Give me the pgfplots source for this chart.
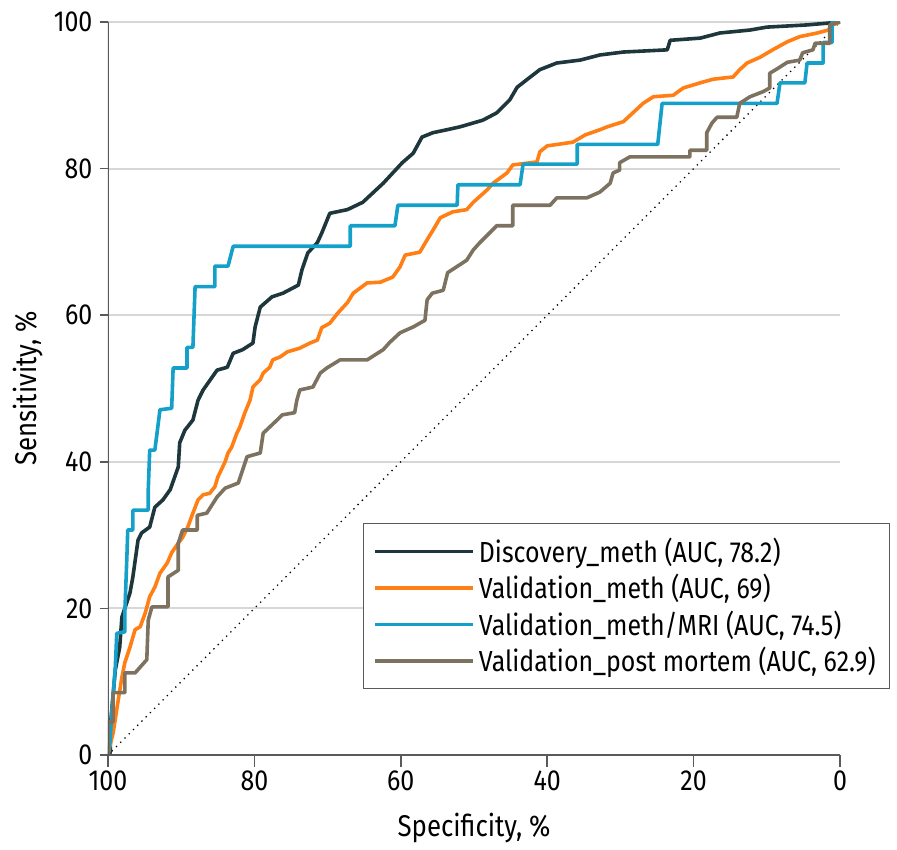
\documentclass[border=0pt]{standalone}
\usepackage{pgfplots}
\pgfplotsset{compat=1.18}
\usepackage{fontspec}
\setmainfont{Fira Sans}[FakeStretch=0.86]

\definecolor{cDisc}{RGB}{30,55,60}
\definecolor{cVal}{RGB}{255,127,20}
\definecolor{cMri}{RGB}{20,160,200}
\definecolor{cPm}{RGB}{125,114,96}
\definecolor{cGrid}{RGB}{215,215,215}
\definecolor{cAx}{RGB}{90,90,90}

\begin{document}
\begin{tikzpicture}
\begin{axis}[scale only axis,width=366pt,height=366.5pt,
  x dir=reverse,xmin=0,xmax=100,ymin=0,ymax=100,
  xtick={0,20,...,100},ytick={0,20,...,100},
  axis line style={draw=none},
  xtick pos=bottom,ytick pos=left,
  tick align=outside,
  x tick style={cAx,line width=0.8pt},y tick style={cAx,line width=0.8pt},
  xtick style={/pgfplots/major tick length=6pt},
  ytick style={/pgfplots/major tick length=4pt},
  ymajorgrids,grid style={cGrid,line width=1pt},
  /pgf/number format/assume math mode=true,
  tick label style={font=\fontsize{14.5}{16}\selectfont},
  label style={font=\fontsize{15}{17}\selectfont},
  xlabel={Specificity, \%},ylabel={Sensitivity, \%},
  xlabel style={at={(axis description cs:0.5,-0.0996)},anchor=center},
  ylabel style={at={(axis description cs:-0.109,0.5)},anchor=center},
  legend style={at={(0.348,0.3165)},anchor=north west,draw=cAx,line width=0.6pt,
    fill=white,font=\fontsize{14.5}{17}\selectfont,inner xsep=5pt,inner ysep=5pt,
    row sep=0.5pt,cells={anchor=west}},
  legend image code/.code={\draw[#1,line width=1.4pt] (5pt,0pt) -- (45pt,0pt);
    \path (0pt,0pt) -- (49pt,0pt);},
  every axis plot/.append style={line width=1.8pt,line join=round}]

\addplot[black,line width=0.9pt,line cap=round,dash pattern=on 0pt off 3pt,forget plot]
  coordinates {(100,0) (0,100)};

% Discovery_meth
\addplot[cDisc] coordinates {
(100,0) (99.7,0.3) (99.6,4.8) (99.0,11.6) (98.4,14.7) (98.1,18.8) (97.0,22.1)
(96.6,24.3) (95.9,29.3) (95.4,30.3) (94.3,31.1) (93.6,33.8) (92.5,34.8) (91.5,36.2)
(90.4,39.3) (90.2,42.6) (89.5,44.3) (88.4,45.7) (87.7,48.4) (87.0,49.8) (85.1,52.5)
(83.7,52.9) (82.9,54.8) (81.6,55.3) (80.2,56.2) (79.9,58.4) (79.2,61.1) (77.6,62.5)
(76.1,63.0) (74.0,64.1) (73.5,66.2) (72.7,68.5) (71.4,69.9) (70.8,71.2) (69.7,73.9)
(67.3,74.4) (65.2,75.4) (63.8,76.7) (62.4,78.0) (61.1,79.4) (59.8,80.8) (58.3,82.1)
(57.1,84.3) (55.6,84.9) (53.7,85.3) (51.9,85.7) (48.8,86.6) (46.9,87.6) (45.1,89.4)
(44.1,91.1) (42.3,92.5) (41.0,93.5) (38.7,94.4) (35.5,94.8) (32.8,95.5) (29.6,95.9)
(23.6,96.2) (23.2,97.5) (19.1,97.8) (16.4,98.5) (12.3,98.9) (10.0,99.3) (4.5,99.6)
(1.0,99.9) (0,100)};
\addlegendentry{Discovery\_meth (AUC, 78.2)}

% Validation_meth
\addplot[cVal] coordinates {
(100,0) (99.7,1.4) (99.3,3.0) (98.6,7.5) (98.1,10.6) (97.7,12.6) (97.0,14.7)
(96.3,17.1) (95.6,17.5) (94.9,19.4) (94.3,21.6) (93.6,22.9) (92.9,24.8) (91.9,26.2)
(91.3,27.6) (90.4,28.9) (89.8,29.7) (89.1,31.1) (88.4,33.0) (87.7,34.8) (87.0,35.5)
(86.1,35.7) (85.4,36.6) (85.0,37.9) (84.0,40.0) (83.6,41.2) (83.1,42.0) (82.4,43.9)
(82.0,44.7) (81.3,46.7) (80.6,48.4) (80.2,50.2) (79.2,51.2) (78.8,52.1) (77.9,52.9)
(77.5,53.9) (76.5,54.3) (75.5,55.0) (73.8,55.5) (72.4,56.2) (71.4,56.6) (70.8,58.3)
(69.7,58.9) (68.6,60.3) (67.3,61.7) (66.5,63.0) (64.6,64.4) (62.8,64.5) (61.1,65.2)
(60.1,66.6) (59.4,68.2) (57.4,68.6) (56.4,70.3) (55.6,71.6) (54.6,73.3) (52.9,74.1)
(51.0,74.4) (50.1,75.4) (48.2,77.1) (47.4,78.0) (45.5,79.4) (44.7,80.5) (41.4,80.9)
(41.0,82.3) (40.0,83.1) (36.5,83.6) (34.8,84.6) (32.8,85.3) (31.8,85.7) (29.6,86.4)
(28.3,87.6) (26.9,88.9) (25.5,89.8) (22.8,90.0) (21.4,91.0) (19.1,91.7) (17.3,92.2)
(14.6,92.5) (13.7,93.5) (12.7,94.4) (10.9,95.2) (9.2,96.2) (7.2,97.3) (5.5,98.0)
(3.1,98.5) (1.6,98.9) (1.0,99.6) (0,100)};
\addlegendentry{Validation\_meth (AUC, 69)}

% Validation_meth/MRI
\addplot[cMri] coordinates {
(100,0) (99.7,2.0) (99.5,5.7) (99.0,12.0) (98.8,16.6) (97.7,16.8) (97.7,19.4)
(97.4,27.6) (97.3,30.7) (96.6,30.7) (96.6,33.4) (94.5,33.4) (94.5,36.2) (94.3,41.6)
(93.6,41.6) (93.3,43.9) (92.9,47.1) (91.3,47.3) (91.1,52.8) (89.2,52.8) (89.2,55.6)
(88.4,55.6) (88.1,63.9) (85.4,63.9) (85.4,66.7) (83.6,66.7) (82.9,69.4) (66.9,69.4)
(66.9,72.2) (60.8,72.2) (60.4,75.0) (52.3,75.0) (52.2,77.8) (43.7,77.8) (43.3,80.6)
(35.9,80.6) (35.9,83.3) (24.9,83.3) (24.3,88.9) (8.6,88.9) (8.2,91.7) (4.8,91.7)
(4.5,94.4) (2.3,94.4) (2.3,97.2) (1.1,97.2) (1.1,100) (0,100)};
\addlegendentry{Validation\_meth/MRI (AUC, 74.5)}

% Validation_post mortem
\addplot[cPm] coordinates {
(100,0) (100,4.5) (99.3,4.5) (99.3,8.5) (97.7,8.5) (97.7,11.2) (96.3,11.2)
(94.7,13.0) (94.5,18.4) (94.0,20.2) (91.8,20.2) (91.8,24.3) (90.4,25.2) (90.4,28.9)
(89.8,30.7) (87.8,30.7) (87.8,32.7) (86.5,33.0) (85.1,35.2) (84.0,36.4) (82.2,37.1)
(81.6,38.9) (81.0,40.7) (79.2,41.2) (78.8,43.9) (76.9,45.7) (76.2,46.4) (74.5,46.7)
(74.2,48.4) (73.8,49.8) (72.0,50.2) (71.0,52.1) (70.1,52.8) (68.3,53.9) (64.6,53.9)
(62.4,55.3) (61.5,56.3) (60.1,57.6) (58.3,58.4) (56.7,59.3) (56.4,62.1) (55.7,63.0)
(54.2,63.4) (53.6,65.8) (51.0,67.5) (50.1,68.9) (49.2,69.9) (46.9,72.2) (44.7,72.2)
(44.7,75.0) (39.6,75.0) (38.7,76.0) (34.6,76.0) (32.8,76.8) (31.4,78.0) (31.0,79.4)
(30.1,79.8) (30.1,80.8) (28.7,81.6) (20.5,81.6) (20.5,82.5) (18.2,82.5) (18.2,84.9)
(17.5,86.2) (16.8,87.0) (14.1,87.0) (13.7,88.9) (12.3,89.8) (10.5,90.5) (9.6,91.0)
(9.6,93.0) (8.6,93.6) (7.2,94.5) (5.5,94.8) (5.1,95.8) (3.7,96.2) (3.4,97.1)
(1.4,97.1) (1.4,99.6) (0,100)};
\addlegendentry{Validation\_post mortem (AUC, 62.9)}

\draw[cAx,line width=0.9pt] (axis cs:100,100) -- (axis cs:100,0) -- (axis cs:0,0);
\coordinate (bl) at (axis description cs:0,0);
\coordinate (tr) at (axis description cs:1,1);
\end{axis}
\path (bl) +(-54pt,-45pt);
\path (tr) +(28.5pt,11pt);
\end{tikzpicture}
\end{document}
